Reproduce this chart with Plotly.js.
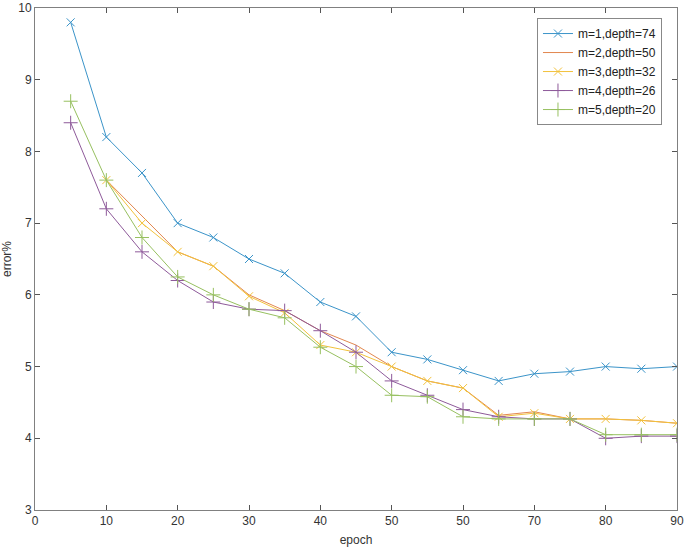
<!DOCTYPE html>
<html>
<head>
<meta charset="utf-8">
<script src="https://cdn.plot.ly/plotly-3.0.1.min.js"></script>
<style>html,body{margin:0;padding:0;background:#fff;}#chart{width:685px;height:548px;}</style>
</head>
<body>
<div id="chart"></div>
<script>
var epochs = [5,10,15,20,25,30,35,40,45,50,55,60,65,70,75,80,85,90];
var epochsFrom10 = [10,15,20,25,30,35,40,45,50,55,60,65,70,75,80,85,90];
var m1 = [9.8,8.2,7.7,7.0,6.8,6.5,6.3,5.9,5.7,5.2,5.1,4.95,4.8,4.9,4.93,5.0,4.97,5.0];
var m2 = [7.6,7.1,6.6,6.4,6.0,5.78,5.5,5.3,5.0,4.8,4.7,4.32,4.37,4.27,4.27,4.25,4.21];
var m3 = [7.6,7.0,6.6,6.4,5.98,5.75,5.3,5.2,5.0,4.8,4.7,4.3,4.35,4.27,4.27,4.25,4.21];
var m4 = [8.4,7.2,6.6,6.2,5.9,5.8,5.78,5.5,5.2,4.8,4.6,4.4,4.3,4.27,4.27,4.0,4.03,4.03];
var m5 = [8.7,7.6,6.8,6.25,6.0,5.8,5.68,5.27,5.0,4.6,4.58,4.3,4.27,4.27,4.27,4.05,4.05,4.05];
var names = ["m=1,depth=74","m=2,depth=50","m=3,depth=32","m=4,depth=26","m=5,depth=20"];
var xTickVals = [0,10,20,30,40,50,60,70,80,90];
var xTickText = ["0","10","20","30","40","50","50","70","80","90"];
var yTickVals = [3,4,5,6,7,8,9,10];

var colors = ["#3b94c9","#e2874f","#f2c23c","#8e5a9a","#97c060"];

function tr(x, y, name, color, symbol) {
  var t = {x: x, y: y, name: name, type: "scatter",
    line: {color: color, width: 1}};
  if (symbol) {
    t.mode = "lines+markers";
    t.marker = {symbol: symbol, size: symbol.indexOf("x") === 0 ? 8 : 10, color: color, line: {color: color, width: 1}};
  } else {
    t.mode = "lines";
  }
  return t;
}

var data = [
  tr(epochs, m1, names[0], colors[0], "x-thin-open"),
  tr(epochsFrom10, m2, names[1], colors[1], null),
  tr(epochsFrom10, m3, names[2], colors[2], "x-thin-open"),
  tr(epochs, m4, names[3], colors[3], "cross-thin-open"),
  tr(epochs, m5, names[4], colors[4], "cross-thin-open")
];

var axisCommon = {
  showgrid: false, zeroline: false, showline: true, linecolor: "#808080", linewidth: 1,
  mirror: "ticks", ticks: "inside", ticklen: 5, tickcolor: "#555", tickwidth: 1,
  ticklabeloverflow: "allow",
  tickfont: {family: "Liberation Sans, Arial, sans-serif", size: 12, color: "#333"}
};

var layout = {
  width: 685, height: 548,
  margin: {l: 35, r: 8, t: 8, b: 38},
  paper_bgcolor: "#fff", plot_bgcolor: "#fff",
  showlegend: true,
  font: {family: "Liberation Sans, Arial, sans-serif", size: 12, color: "#333"},
  xaxis: Object.assign({}, axisCommon, {
    range: [0, 90], tickmode: "array", tickvals: xTickVals, ticktext: xTickText,
    title: {text: "epoch", standoff: 8, font: {size: 12, color: "#333"}}
  }),
  yaxis: Object.assign({}, axisCommon, {
    range: [3, 10], tickmode: "array", tickvals: yTickVals,
    title: {text: "error%", standoff: 10, font: {size: 12, color: "#333"}}
  }),
  legend: {
    x: 0.9766, y: 0.98, xanchor: "right", yanchor: "top",
    bgcolor: "#fff", bordercolor: "#888", borderwidth: 1,
    font: {size: 12, color: "#222"}, tracegroupgap: 0
  }
};

Plotly.newPlot("chart", data, layout, {displayModeBar: false, staticPlot: true});
</script>
</body>
</html>
